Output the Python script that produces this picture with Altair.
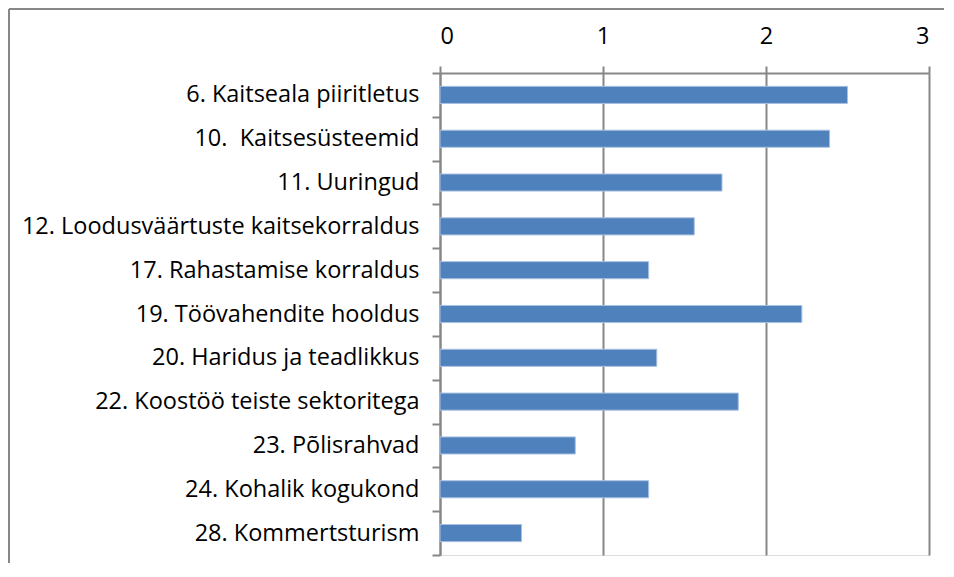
import altair as alt
import pandas as pd

categories = [
    "6. Kaitseala piiritletus",
    "10.\u00a0 Kaitsesüsteemid",
    "11. Uuringud",
    "12. Loodusväärtuste kaitsekorraldus",
    "17. Rahastamise korraldus",
    "19. Töövahendite hooldus",
    "20. Haridus ja teadlikkus",
    "22. Koostöö teiste sektoritega",
    "23. Põlisrahvad",
    "24. Kohalik kogukond",
    "28. Kommertsturism",
]
values = [2.50, 2.39, 1.73, 1.56, 1.28, 2.22, 1.33, 1.83, 0.83, 1.28, 0.50]
x_ticks = [0, 1, 2, 3]

df = pd.DataFrame({"cat": categories, "val": values})

FONT = "Open Sans"
GRAY = "#878787"

bars = alt.Chart(df).mark_bar(
    height=alt.RelativeBandSize(band=0.39),
    color="#4F81BD",
    stroke="#A9C1E0",
    strokeWidth=1,
).encode(
    x=alt.X("val:Q", scale=alt.Scale(domain=[0, 3], nice=False),
            axis=alt.Axis(orient="top", values=x_ticks, title=None, format="d",
                          grid=True, gridColor=GRAY, gridWidth=2,
                          domainColor=GRAY, domainWidth=2,
                          tickColor=GRAY, tickWidth=2, tickSize=7,
                          labelFont=FONT, labelFontSize=23.5, labelColor="black",
                          labelPadding=18)),
    y=alt.Y("cat:N", sort=categories,
            scale=alt.Scale(paddingInner=0, paddingOuter=0),
            axis=alt.Axis(title=None, tickBand="extent", grid=False,
                          domainColor=GRAY, domainWidth=2,
                          tickColor=GRAY, tickWidth=2, tickSize=8,
                          labelFont=FONT, labelFontSize=23.5, labelColor="black",
                          labelPadding=13, labelLimit=500)),
)

frame_data = alt.Data(values=[{}])
left_line = alt.Chart(frame_data).mark_rule(color=GRAY, strokeWidth=2).encode(
    x=alt.value(-431), y=alt.value(-64), y2=alt.value(490))
top_line = alt.Chart(frame_data).mark_rule(color=GRAY, strokeWidth=2).encode(
    x=alt.value(-431), x2=alt.value(504), y=alt.value(-64))

chart = alt.layer(bars, left_line, top_line).properties(
    width=489, height=482,
    autosize=alt.AutoSizeParams(type="none"),
    padding={"left": 432, "top": 65, "right": 15, "bottom": 8},
).configure_view(stroke=None).configure(background="white")

chart.save("out.html", embed_options={"renderer": "svg", "actions": False})
